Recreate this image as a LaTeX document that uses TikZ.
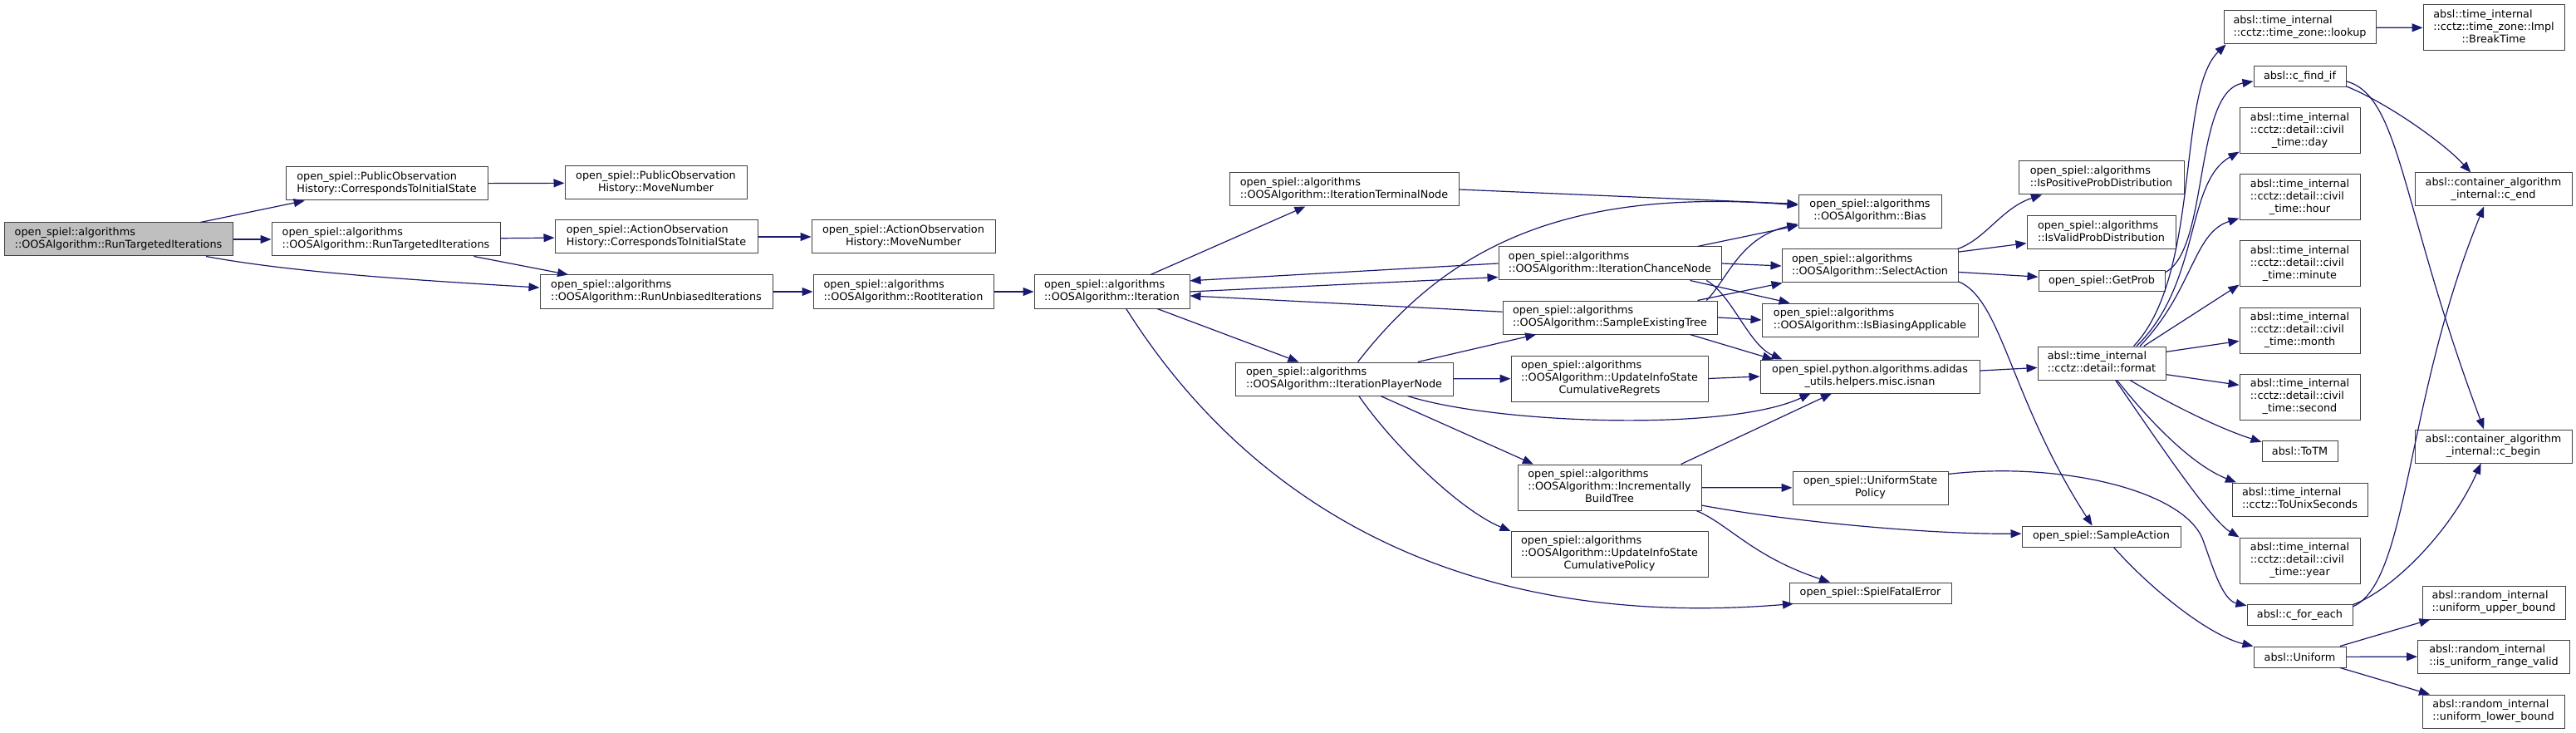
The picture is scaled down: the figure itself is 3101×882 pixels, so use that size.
\documentclass[tikz,border=0pt]{standalone}
\usepackage{fontspec}
\setmainfont{DejaVu Sans}
\usetikzlibrary{arrows.meta}
\definecolor{edgeblue}{RGB}{25,25,112}
\definecolor{boxline}{RGB}{64,64,64}
\newcommand{\twol}[2]{\begin{tabular}{@{}l@{}}#1\\\multicolumn{1}{@{}c@{}}{#2}\end{tabular}}
\newcommand{\threel}[3]{\begin{tabular}{@{}l@{}}#1\\#2\\\multicolumn{1}{@{}c@{}}{#3}\end{tabular}}
\tikzset{fn/.style={draw=boxline,fill=white,line width=.5pt,inner sep=1pt,
   font=\fontsize{6.4}{7.5}\selectfont},
 rootfn/.style={fn,fill=black!25},
 wd/.style={minimum width=#1*0.5pt},
 one/.style={minimum height=12.5pt},
 two/.style={minimum height=20pt},
 three/.style={minimum height=27.5pt},
 edge/.style={draw=edgeblue,line width=.6pt,-{Triangle[length=6.5pt,width=5pt]}}}

\begin{document}
\begin{tikzpicture}[x=0.5pt,y=-0.5pt]
\useasboundingbox (0,0) rectangle (3101,882);
\node[rootfn,two,wd=275] (root) at (142.5,288) {\twol{open\_spiel::algorithms}{::OOSAlgorithm::RunTargetedIterations}};
\node[fn,two,wd=243] (pubcorr) at (465.5,221) {\twol{open\_spiel::PublicObservation}{History::CorrespondsToInitialState}};
\node[fn,two,wd=219] (pubmove) at (789.5,220) {\twol{open\_spiel::PublicObservation}{History::MoveNumber}};
\node[fn,two,wd=275] (runtarg) at (464.5,288) {\twol{open\_spiel::algorithms}{::OOSAlgorithm::RunTargetedIterations}};
\node[fn,two,wd=244] (actcorr) at (790,285) {\twol{open\_spiel::ActionObservation}{History::CorrespondsToInitialState}};
\node[fn,two,wd=280] (rununb) at (790,351) {\twol{open\_spiel::algorithms}{::OOSAlgorithm::RunUnbiasedIterations}};
\node[fn,two,wd=221] (actmove) at (1087.5,285) {\twol{open\_spiel::ActionObservation}{History::MoveNumber}};
\node[fn,two,wd=217] (rootit) at (1087.5,351) {\twol{open\_spiel::algorithms}{::OOSAlgorithm::RootIteration}};
\node[fn,two,wd=187] (iter) at (1338.5,351) {\twol{open\_spiel::algorithms}{::OOSAlgorithm::Iteration}};
\node[fn,two,wd=276] (term) at (1618,228) {\twol{open\_spiel::algorithms}{::OOSAlgorithm::IterationTerminalNode}};
\node[fn,two,wd=262] (player) at (1618,456) {\twol{open\_spiel::algorithms}{::OOSAlgorithm::IterationPlayerNode}};
\node[fn,two,wd=268] (chance) at (1938,317) {\twol{open\_spiel::algorithms}{::OOSAlgorithm::IterationChanceNode}};
\node[fn,two,wd=258] (sampletree) at (1938,382) {\twol{open\_spiel::algorithms}{::OOSAlgorithm::SampleExistingTree}};
\node[fn,three,wd=237] (updreg) at (1937.5,455.5) {\threel{open\_spiel::algorithms}{::OOSAlgorithm::UpdateInfoState}{CumulativeRegrets}};
\node[fn,three,wd=221] (incbuild) at (1937.5,586.5) {\threel{open\_spiel::algorithms}{::OOSAlgorithm::Incrementally}{BuildTree}};
\node[fn,three,wd=237] (updpol) at (1937.5,666.5) {\threel{open\_spiel::algorithms}{::OOSAlgorithm::UpdateInfoState}{CumulativePolicy}};
\node[fn,two,wd=172] (bias) at (2251,254.5) {\twol{open\_spiel::algorithms}{::OOSAlgorithm::Bias}};
\node[fn,two,wd=212] (select) at (2251,320) {\twol{open\_spiel::algorithms}{::OOSAlgorithm::SelectAction}};
\node[fn,two,wd=260] (biasapp) at (2251,385) {\twol{open\_spiel::algorithms}{::OOSAlgorithm::IsBiasingApplicable}};
\node[fn,two,wd=264] (isnan) at (2251,453) {\twol{open\_spiel.python.algorithms.adidas}{\_utils.helpers.misc.isnan}};
\node[fn,two,wd=187] (unipol) at (2251.5,587) {\twol{open\_spiel::UniformState}{Policy}};
\node[fn,one,wd=195] (fatal) at (2251.5,713.5) {open\_spiel::SpielFatalError};
\node[fn,two,wd=199] (ispos) at (2529.5,214) {\twol{open\_spiel::algorithms}{::IsPositiveProbDistribution}};
\node[fn,two,wd=179] (isvalid) at (2529.5,280) {\twol{open\_spiel::algorithms}{::IsValidProbDistribution}};
\node[fn,one,wd=152] (getprob) at (2530,338.5) {open\_spiel::GetProb};
\node[fn,two,wd=154] (format) at (2530,437) {\twol{absl::time\_internal}{::cctz::detail::format}};
\node[fn,one,wd=191] (sampleact) at (2529.5,645.5) {open\_spiel::SampleAction};
\node[fn,two,wd=183] (lookup) at (2768.5,33) {\twol{absl::time\_internal}{::cctz::time\_zone::lookup}};
\node[fn,one,wd=111] (findif) at (2768.5,92) {absl::c\_find\_if};
\node[fn,three,wd=145] (day) at (2768.5,157.5) {\threel{absl::time\_internal}{::cctz::detail::civil}{\_time::day}};
\node[fn,three,wd=145] (hour) at (2768.5,237.5) {\threel{absl::time\_internal}{::cctz::detail::civil}{\_time::hour}};
\node[fn,three,wd=145] (minute) at (2768.5,317.5) {\threel{absl::time\_internal}{::cctz::detail::civil}{\_time::minute}};
\node[fn,three,wd=145] (month) at (2768.5,397.5) {\threel{absl::time\_internal}{::cctz::detail::civil}{\_time::month}};
\node[fn,three,wd=145] (second) at (2768.5,477.5) {\threel{absl::time\_internal}{::cctz::detail::civil}{\_time::second}};
\node[fn,one,wd=91] (totm) at (2768.5,542.5) {absl::ToTM};
\node[fn,two,wd=163] (tounix) at (2768.5,601) {\twol{absl::time\_internal}{::cctz::ToUnixSeconds}};
\node[fn,three,wd=145] (year) at (2768.5,674.5) {\threel{absl::time\_internal}{::cctz::detail::civil}{\_time::year}};
\node[fn,one,wd=127] (foreach) at (2768.5,740) {absl::c\_for\_each};
\node[fn,one,wd=111] (uniform) at (2768.5,790.5) {absl::Uniform};
\node[fn,three,wd=170] (breaktime) at (3002,33.5) {\threel{absl::time\_internal}{::cctz::time\_zone::Impl}{::BreakTime}};
\node[fn,two,wd=189] (cend) at (3001.5,228) {\twol{absl::container\_algorithm}{\_internal::c\_end}};
\node[fn,two,wd=189] (cbegin) at (3001.5,537) {\twol{absl::container\_algorithm}{\_internal::c\_begin}};
\node[fn,two,wd=172] (upper) at (3002,725) {\twol{absl::random\_internal}{::uniform\_upper\_bound}};
\node[fn,two,wd=183] (rangevalid) at (3002,790) {\twol{absl::random\_internal}{::is\_uniform\_range\_valid}};
\node[fn,two,wd=171] (lower) at (3001.5,856) {\twol{absl::random\_internal}{::uniform\_lower\_bound}};
% calls
\draw[edge] (root) -- (pubcorr);
\draw[edge] (root) -- (runtarg);
\draw[edge] (root.349) .. controls (353,328) and (500,337) .. (rununb.178);
\draw[edge] (pubcorr) -- (pubmove);
\draw[edge] (runtarg) -- (actcorr);
\draw[edge] (runtarg) -- (rununb);
\draw[edge] (actcorr) -- (actmove);
\draw[edge] (rununb) -- (rootit);
\draw[edge] (rootit) -- (iter);
\draw[edge] (iter) -- (term);
\draw[edge] (iter.east) -- (chance.187);
\draw[edge] (chance.west) -- (iter.8);
\draw[edge] (sampletree.177) -- (iter.357);
\draw[edge] (iter) -- (player);
\draw[edge] (iter.310) .. controls (1500,600) and (1750,760) .. (fatal.188);
\draw[edge] (term.east) -- (bias.174);
\draw[edge] (player.51) .. controls (1740,300) and (1880,225) .. (bias.175);
\draw[edge] (chance.11) -- (bias.191);
\draw[edge] (sampletree.10) .. controls (2080,335) and (2095,285) .. (bias.190);
\draw[edge] (chance.east) -- (select.west);
\draw[edge] (chance.348) -- (biasapp.168);
\draw[edge] (chance.350) .. controls (2085,355) and (2105,415) .. (isnan.169);
\draw[edge] (sampletree.11) -- (select.191);
\draw[edge] (sampletree.east) -- (biasapp.west);
\draw[edge] (sampletree.348) -- (isnan.170);
\draw[edge] (player.13) -- (sampletree.193);
\draw[edge] (player) -- (updreg);
\draw[edge] (player.345) .. controls (1800,510) and (2080,520) .. (isnan.196);
\draw[edge] (player.335) -- (incbuild.163);
\draw[edge] (player.311) .. controls (1680,540) and (1760,615) .. (updpol.167);
\draw[edge] (updreg.east) -- (isnan.west);
\draw[edge] (incbuild.18) -- (isnan.204);
\draw[edge] (incbuild) -- (unipol);
\draw[edge] (incbuild.349) .. controls (2150,627) and (2320,643) .. (sampleact.178);
\draw[edge] (incbuild.345) .. controls (2080,630) and (2110,670) .. (fatal.165);
\draw[edge] (select.11) .. controls (2390,288) and (2410,250) .. (ispos.196);
\draw[edge] (select.9) -- (isvalid.188);
\draw[edge] (select.356) -- (getprob.176);
\draw[edge] (select.350) .. controls (2410,360) and (2420,480) .. (sampleact.130);
\draw[edge] (isnan.3) -- (format.184);
\draw[edge] (getprob.8) .. controls (2660,300) and (2640,110) .. (findif.186);
\draw[edge] (format.28) .. controls (2650,330) and (2620,110) .. (lookup.193);
\draw[edge] (format.26) .. controls (2650,340) and (2630,220) .. (day.199);
\draw[edge] (format.24) .. controls (2640,350) and (2640,280) .. (hour.199);
\draw[edge] (format.22) -- (minute.199);
\draw[edge] (format.10) -- (month.190);
\draw[edge] (format.350) -- (second.169);
\draw[edge] (format.329) .. controls (2610,485) and (2670,515) .. (totm.167);
\draw[edge] (format.312) .. controls (2590,510) and (2640,560) .. (tounix.165);
\draw[edge] (format.309) .. controls (2590,520) and (2660,625) .. (year.159);
\draw[edge] (lookup) -- (breaktime);
\draw[edge] (findif.348) .. controls (2870,122) and (2940,170) .. (cend.143);
\draw[edge] (findif.354) .. controls (2890,115) and (2890,250) .. (cbegin.119);
\draw[edge] (foreach.9) .. controls (2900,700) and (2895,480) .. (cend.241);
\draw[edge] (foreach.11) .. controls (2880,710) and (2950,640) .. (cbegin.234);
\draw[edge] (unipol.10) .. controls (2480,555) and (2630,590) .. (2652,650) .. controls (2663,680) and (2675,722) .. (foreach.170);
\draw[edge] (sampleact.319) .. controls (2590,710) and (2660,765) .. (uniform.167);
\draw[edge] (uniform.15) -- (upper.195);
\draw[edge] (uniform) -- (rangevalid);
\draw[edge] (uniform.345) -- (lower.165);
\end{tikzpicture}
\end{document}
